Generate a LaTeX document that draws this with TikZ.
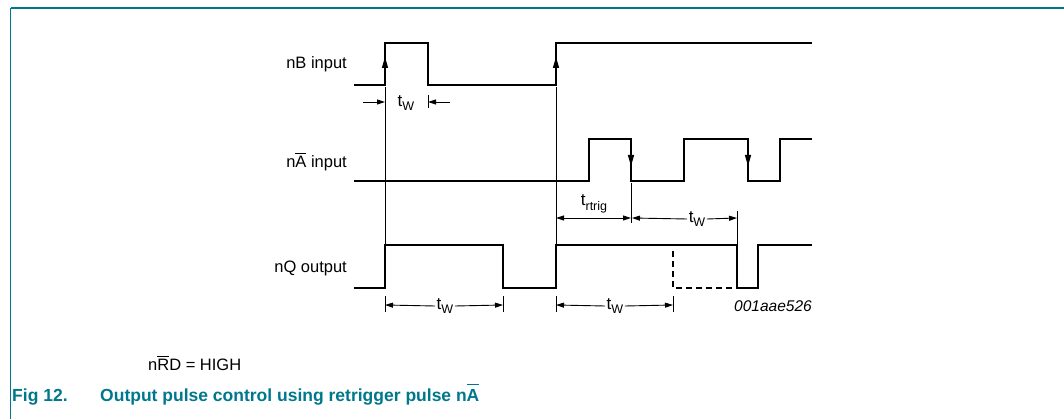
\documentclass[tikz,border=0pt]{standalone}
\usepackage{fontspec}
\setmainfont{Liberation Sans}
\usetikzlibrary{arrows.meta}
\definecolor{nxpteal}{RGB}{0,120,140}
\newcommand{\ovbar}[2][1.3pt]{\leavevmode\vbox{\hrule height 1pt\kern#1\hbox{#2}}}
\newcommand{\sbs}[1]{\raisebox{-0.28em}{\fontsize{12.5}{14}\selectfont #1}}
\begin{document}
\begin{tikzpicture}[x=1pt,y=-1pt,
  sig/.style={line width=2.6pt,line join=miter},
  thin/.style={line width=0.9pt},
  dim/.style={line width=0.9pt,-{Triangle[length=8pt,width=5pt]}},
  dimb/.style={line width=0.9pt,{Triangle[length=8pt,width=5pt]}-{Triangle[length=8pt,width=5pt]}},
  lbl/.style={font=\fontsize{16.5}{19}\selectfont,inner sep=0pt},
  tw/.style={font=\fontsize{17}{19}\selectfont,inner sep=1.5pt,fill=white}]
\useasboundingbox (0,0) rectangle (1064,419);
% frame
\draw[nxpteal,line width=1.6pt] (10.5,8) -- (1064,8);
\draw[nxpteal,line width=1.1pt] (10.5,8) -- (10.5,419);
% labels
\node[lbl,anchor=east] (lb) at (347,64) {nB input};
\node[lbl,anchor=east] (la) at (347,162) {n\ovbar{A} input};
\node[lbl,anchor=east] (lq) at (347,268) {nQ output};
% thin guide lines
\draw[thin] (385,87) -- (385,245);
\draw[thin] (556,87) -- (556,245);
\draw[thin] (428,95) -- (428,108);
\draw[thin] (631,183) -- (631,223);
\draw[thin] (737,211) -- (737,244);
\foreach \x in {385,503,556,673} \draw[thin] (\x,296) -- (\x,312);
% nB input
\draw[sig] (354,85) -- (385,85) -- (385,43) -- (428,43) -- (428,85) -- (556,85) -- (556,43) -- (812,43);
\fill (385,57) -- (381.8,68) -- (388.2,68) -- cycle;
\fill (556,57) -- (552.8,68) -- (559.2,68) -- cycle;
% nA input
\draw[sig] (354,181) -- (589,181) -- (589,139) -- (631,139) -- (631,181) -- (684,181) -- (684,139) -- (748,139) -- (748,181) -- (780,181) -- (780,139) -- (812,139);
\fill (631,166) -- (627.8,155) -- (634.2,155) -- cycle;
\fill (748,166) -- (744.8,155) -- (751.2,155) -- cycle;
% nQ output
\draw[sig] (354,288) -- (385,288) -- (385,245) -- (503,245) -- (503,288) -- (556,288) -- (556,245) -- (737,245) -- (737,288) -- (758,288) -- (758,245) -- (812,245);
\draw[sig,dashed,dash pattern=on 6pt off 4pt,line cap=butt] (673,251) -- (673,288) -- (734,288);
% tW under nB
\coordinate (b1) at (385,102);
\coordinate (b2) at (428,102);
\draw[dim] (363,102) -- (b1);
\draw[dim] (450,102) -- (b2);
\node[tw,fill=none] (tw1) at (406,103) {t\sbs{W}};
% trtrig
\coordinate (r1) at (556,218);
\coordinate (r2) at (631,218);
\draw[dimb] (r1) -- (r2);
\node[tw,fill=none] (trt) at (594,204) {t\sbs{rtrig}};
% tW after trtrig
\coordinate (r3) at (632,218);
\coordinate (r4) at (737,218);
\node[tw] (tw2) at (697,219) {t\sbs{W}};
\draw[dim] (tw2.west) -- (r3);
\draw[dim] (tw2.east) -- (r4);
% tW under nQ
\coordinate (q1) at (385,305);
\coordinate (q2) at (503,305);
\node[tw] (tw3) at (445,306) {t\sbs{W}};
\draw[dim] (tw3.west) -- (q1);
\draw[dim] (tw3.east) -- (q2);
\coordinate (q3) at (556,305);
\coordinate (q4) at (673,305);
\node[tw] (tw4) at (615,306) {t\sbs{W}};
\draw[dim] (tw4.west) -- (q3);
\draw[dim] (tw4.east) -- (q4);
% code
\node[lbl,anchor=east,font=\fontsize{15.5}{18}\selectfont\itshape] (code) at (812,306) {001aae526};
% notes
\node[lbl,anchor=base west] (note) at (148,370) {n\ovbar{R}D = HIGH};
\node[lbl,anchor=base west,font=\fontsize{17.5}{20}\selectfont\bfseries,text=nxpteal] (fig) at (12,401) {Fig 12.};
\node[lbl,anchor=base west,font=\fontsize{17.5}{20}\selectfont\bfseries,text=nxpteal] (cap) at (100,401) {Output pulse control using retrigger pulse n\ovbar[4pt]{A}};
\end{tikzpicture}
\end{document}
